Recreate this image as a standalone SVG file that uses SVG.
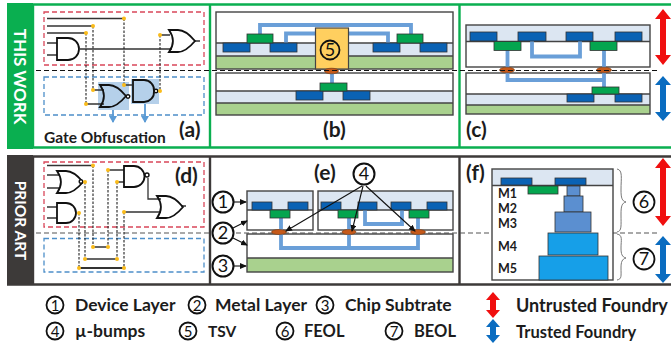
<svg xmlns="http://www.w3.org/2000/svg" width="671" height="343" viewBox="0 0 671 343">
<style>
text{font-family:Lato,"Open Sans","Liberation Sans",sans-serif;font-weight:700;fill:#1c1c1c}
.lbl{font-size:21px}
.leg{font-size:17.5px}
.m{font-size:12.5px}
.side{fill:#fff;text-anchor:middle}
.num{font-size:15px;text-anchor:middle;font-weight:400;fill:#111}
.numb{font-size:18px;text-anchor:middle;font-weight:400;fill:#111}
.c{fill:#fff;stroke:#111;stroke-width:2}
.cy{fill:none;stroke:#111;stroke-width:1.8}
.lb{fill:#dce6f2}
.gr{fill:#a9d18e}
.wh{fill:#fff}
.fr{fill:none;stroke:#444;stroke-width:1.4}
.mb{fill:#0a62b4;stroke:#333;stroke-width:.8}
.mg{fill:#04a54f;stroke:#333;stroke-width:.8}
.w{fill:none;stroke:#6a9fd8;stroke-width:3.8}
.bump{fill:#c5591a;stroke:#7a3a10;stroke-width:.6}
.dr{fill:none;stroke:#d9475a;stroke-width:1.3;stroke-dasharray:5 3}
.db{fill:none;stroke:#4d8fc9;stroke-width:1.3;stroke-dasharray:5 3}
.g{fill:none;stroke:#111;stroke-width:1.8}
.bub{fill:#fff;stroke:#111;stroke-width:1.4}
.wire{fill:none;stroke:#333;stroke-width:1.3}
.dash{fill:none;stroke:#222;stroke-width:1.1;stroke-dasharray:2.5 1.5}
.dot{fill:#fbbc1a}
.sep{fill:none;stroke:#111;stroke-width:1.2;stroke-dasharray:5 3}
.ar{stroke:#111;stroke-width:1.1;fill:none;marker-end:url(#ah)}
.bar{fill:none;stroke:#5b9bd5;stroke-width:1.8;marker-end:url(#ab)}
.brace{fill:none;stroke:#777;stroke-width:1}
</style>
<defs>
<marker id="ah" markerWidth="8" markerHeight="8" refX="6" refY="3" orient="auto" markerUnits="userSpaceOnUse"><path d="M0 0L7 3L0 6z" fill="#111"/></marker>
<marker id="ab" markerWidth="10" markerHeight="10" refX="6" refY="4" orient="auto" markerUnits="userSpaceOnUse"><path d="M0 0L7 4L0 8z" fill="#5b9bd5"/></marker>
<path id="and" d="M0 0H11A11 11 0 0 1 11 22H0Z"/>
<path id="or" d="M0 0H9C16 0 21 5 26 11C21 17 16 22 9 22H0C5 15 5 7 0 0Z"/>
</defs>
<rect width="671" height="343" fill="#fff"/>

<g id="frame-top">
<rect x="7" y="3" width="26" height="146" fill="#0aaf50"/>
<path d="M7 4.500H671M7 147.500H671M33 4V148M210 4V148M459.500 4V148" fill="none" stroke="#0aaf50" stroke-width="2.400"/>
<text class="side" style="font-size:17px" transform="translate(14 76.500) rotate(90)">THIS WORK</text>
</g>
<g id="frame-bottom">
<rect x="7" y="155" width="26" height="130" fill="#3d3a39"/>
<path d="M7 156.500H671M7 284.500H671M33 156V285M210 156V285M459.500 156V285" fill="none" stroke="#3d3a39" stroke-width="2.400"/>
<text class="side" style="font-size:15.500px" transform="translate(15 220.500) rotate(90)">PRIOR ART</text>
</g>

<g id="panel-a">
<rect class="dr" x="44" y="12" width="160" height="53"/>
<rect class="db" x="44" y="77" width="160" height="38"/>
<rect x="98" y="82" width="31" height="28" fill="#b5d0ea"/>
<rect x="131" y="79" width="28" height="25" fill="#b5d0ea"/>
<path class="wire" d="M47 18.500H124M47 26H93M47 33H86M47 43H57M47 55H57M80 49H172M160 35H170M194 41H200M93 90H104M86 104H104M155 91H160M124 85H132"/>
<path class="dash" d="M124 18.500V85M93 26V90M86 33V104M160 35V91"/>
<use href="#and" class="g" x="57" y="38"/>
<use href="#or" class="g" x="169" y="30"/>
<use href="#or" class="g" x="100" y="85"/>
<circle class="bub" cx="128" cy="96.500" r="1.800"/>
<path class="g" d="M133 80H144A10 10 0 0 1 154 91A10 10 0 0 1 144 102H133Z"/>
<circle class="bub" cx="156" cy="91" r="1.800"/>
<circle class="dot" cx="124" cy="18.500" r="2"/><circle class="dot" cx="93" cy="26" r="2"/><circle class="dot" cx="86" cy="33" r="2"/><circle class="dot" cx="160" cy="35" r="2"/><circle class="dot" cx="93" cy="90" r="2"/><circle class="dot" cx="86" cy="104" r="2"/><circle class="dot" cx="160" cy="91" r="2"/><circle class="dot" cx="124" cy="85" r="2"/>
<path class="bar" d="M113 110V122"/>
<path class="bar" d="M145 104V122"/>
<text x="44" y="143" style="font-size:15.500px">Gate Obfuscation</text>
<text class="lbl" x="179" y="137">(a)</text>
</g>

<g id="panel-b">
<rect class="wh" x="216" y="12" width="237" height="31"/>
<rect class="lb" x="216" y="43" width="237" height="13"/>
<rect class="gr" x="216" y="56" width="237" height="13"/>
<rect class="fr" x="216" y="12" width="237" height="57"/>
<path class="fr" d="M216 43H453M216 56H453"/>
<path class="w" d="M260 34V25H411V34M286 43V33.500H388V43"/>
<rect class="mb" x="223" y="43" width="27" height="9"/><rect class="mb" x="270" y="43" width="27" height="9"/><rect class="mb" x="373" y="43" width="27" height="9"/><rect class="mb" x="420" y="43" width="27" height="9"/>
<rect class="mg" x="247" y="34" width="26" height="9"/><rect class="mg" x="397" y="34" width="26" height="9"/>
<g id="tsv"><rect x="315.500" y="28" width="33" height="41" fill="#ffcf5f" stroke="#444" stroke-width="1.200"/><circle class="cy" cx="330" cy="50" r="9.500"/><text class="numb" x="330" y="56">5</text></g>
<rect class="wh" x="216" y="73" width="237" height="18"/>
<rect class="lb" x="216" y="91" width="237" height="12"/>
<rect class="gr" x="216" y="103" width="237" height="12"/>
<rect class="fr" x="216" y="73" width="237" height="42"/>
<path class="fr" d="M216 91H453M216 103H453"/>
<path class="w" d="M332 72V83"/>
<rect class="mb" x="296" y="91" width="27" height="9"/><rect class="mb" x="343" y="91" width="27" height="9"/>
<rect class="mg" x="320" y="83" width="27" height="8"/>
<ellipse class="bump" cx="331.500" cy="71" rx="7" ry="2.800"/>
<text class="lbl" x="323" y="137">(b)</text>
</g>

<g id="panel-c">
<rect class="lb" x="466" y="25" width="184" height="16.500"/>
<rect class="wh" x="466" y="41.500" width="184" height="25.500"/>
<rect class="fr" x="466" y="25" width="184" height="42"/>
<path class="fr" d="M466 41.500H650"/>
<rect class="wh" x="466" y="73" width="184" height="21"/>
<rect class="lb" x="466" y="94" width="184" height="11"/>
<rect class="gr" x="466" y="105" width="184" height="9"/>
<rect class="fr" x="466" y="73" width="184" height="41"/>
<path class="fr" d="M466 94H650M466 105H650"/>
<path class="w" d="M532 41V56.500H580V41M507.500 50V80H604V50M604 80V87"/>
<rect class="mb" x="470" y="32" width="27" height="9"/><rect class="mb" x="518" y="32" width="28" height="9"/><rect class="mb" x="566" y="32" width="27" height="9"/><rect class="mb" x="615" y="32" width="27" height="9"/>
<rect class="mg" x="494" y="41.500" width="27" height="9"/><rect class="mg" x="590" y="41.500" width="27" height="9"/>
<rect class="mb" x="567" y="94" width="27" height="8"/><rect class="mb" x="615" y="94" width="27" height="8"/>
<rect class="mg" x="592" y="87" width="27" height="7"/>
<ellipse class="bump" cx="507" cy="70" rx="7.500" ry="2.800"/><ellipse class="bump" cx="604" cy="70" rx="7.500" ry="2.800"/>
<text class="lbl" x="466" y="137">(c)</text>
</g>

<g id="connectors">
<path class="sep" d="M36 70.500H660"/>
<path class="sep" d="M36 233H660" style="stroke:#555"/>
</g>

<g id="arrow-top-red"><path fill="#f00f0f" d="M663 9L671 19H666V55H671L663 65L655 55H660V19H655Z"/></g>
<g id="arrow-top-blue"><path fill="#0a6cc0" d="M663 76L671 85H666V112H671L663 121L655 112H660V85H655Z"/></g>

<g id="panel-d">
<rect class="dr" x="44" y="162" width="160" height="65"/>
<rect class="db" x="44" y="238.500" width="160" height="33.500"/>
<path class="wire" d="M47 165.500H93M47 175H60M47 188H60M47 207H57M47 218H57M108 170H124M117 182H124M124 212H161M148 178V199H161M181 206H186M93 247H108M85 259H117"/>
<path class="wire" d="M79 268H124" style="stroke-width:1.800"/>
<path class="dash" d="M93 165.500V247M108 170V247M85 182V259M117 182V259M79 213V268M124 212V268"/>
<use href="#or" class="g" x="57" y="171"/>
<circle class="bub" cx="81" cy="181.500" r="1.800"/>
<path class="g" d="M57 203H66A10 10 0 0 1 66 223H57Z"/>
<path class="g" d="M124 166H134A10.500 10.500 0 0 1 134 187H124Z"/>
<circle class="bub" cx="147" cy="175" r="2"/>
<use href="#or" class="g" x="157" y="196"/>
<circle class="dot" cx="93" cy="165.500" r="2"/><circle class="dot" cx="108" cy="170" r="2"/><circle class="dot" cx="117" cy="182" r="2"/><circle class="dot" cx="85" cy="182" r="2"/><circle class="dot" cx="79" cy="213" r="2"/><circle class="dot" cx="124" cy="212" r="2"/><circle class="dot" cx="93" cy="247" r="2"/><circle class="dot" cx="108" cy="247" r="2"/><circle class="dot" cx="85" cy="259" r="2"/><circle class="dot" cx="117" cy="259" r="2"/><circle class="dot" cx="79" cy="268" r="2"/><circle class="dot" cx="124" cy="268" r="2"/>
<text class="lbl" x="175" y="183">(d)</text>
</g>

<g id="panel-e">
<rect class="lb" x="247" y="191" width="66" height="19"/><rect class="wh" x="247" y="210" width="66" height="20"/>
<rect class="fr" x="247" y="191" width="66" height="39"/><path class="fr" d="M247 210H313"/>
<rect class="lb" x="318" y="191" width="135" height="19"/><rect class="wh" x="318" y="210" width="135" height="20"/>
<rect class="fr" x="318" y="191" width="135" height="39"/><path class="fr" d="M318 210H453"/>
<rect class="wh" x="247" y="234" width="206" height="24"/><rect class="gr" x="247" y="258" width="206" height="14"/>
<rect class="fr" x="247" y="234" width="206" height="38"/><path class="fr" d="M247 258H453"/>
<path class="w" d="M281 218V248H418V218M349 218V248M365 210V224H402V210"/>
<rect class="mb" x="252" y="202" width="20" height="8"/><rect class="mb" x="288" y="202" width="20" height="8"/><rect class="mb" x="321" y="202" width="20" height="8"/><rect class="mb" x="358" y="202" width="19" height="8"/><rect class="mb" x="391" y="202" width="20" height="8"/><rect class="mb" x="427" y="202" width="20" height="8"/>
<rect class="mg" x="270" y="210" width="20" height="8"/><rect class="mg" x="338" y="210" width="20" height="8"/><rect class="mg" x="409" y="210" width="20" height="8"/>
<ellipse class="bump" cx="279" cy="232" rx="7.500" ry="2.500"/><ellipse class="bump" cx="349" cy="232" rx="7" ry="2.500"/><ellipse class="bump" cx="418" cy="232" rx="7.500" ry="2.500"/>
<path class="ar" d="M362 186L286 231"/>
<path class="ar" d="M363 186L352 231"/>
<path class="ar" d="M366 186L415 231"/>
<path class="ar" d="M233 202H246"/>
<path class="ar" d="M231 229L247 221"/>
<path class="ar" d="M231 237L247 245"/>
<path class="ar" d="M233 266H246"/>
<g id="c4"><circle class="c" cx="364" cy="174" r="10.500"/><text class="numb" x="364" y="180">4</text></g>
<g id="c1"><circle class="c" cx="223" cy="202" r="10.500"/><text class="numb" x="223" y="208">1</text></g>
<g id="c2"><circle class="c" cx="223" cy="233" r="10.500"/><text class="numb" x="223" y="239">2</text></g>
<g id="c3"><circle class="c" cx="223" cy="266" r="10.500"/><text class="numb" x="223" y="272">3</text></g>
<text class="lbl" x="314" y="180">(e)</text>
</g>

<g id="panel-f">
<rect class="wh" x="492" y="169" width="121" height="111"/>
<rect class="lb" x="492" y="169" width="121" height="16"/>
<rect class="fr" x="492" y="169" width="121" height="111"/><path class="fr" d="M492 185.500H613"/>
<rect class="mb" x="501" y="178" width="31" height="7"/><rect class="mb" x="555" y="178" width="31" height="7"/>
<rect class="mg" x="528" y="186" width="30" height="8"/>
<g fill="#5b8fd0" stroke="#333" stroke-width=".8"><rect x="567" y="186" width="13" height="10"/><rect x="564" y="196" width="19" height="16"/><rect x="555" y="212" width="36" height="20"/></g>
<g fill="#169fe8" stroke="#333" stroke-width=".8"><rect x="548" y="233" width="50" height="22"/><rect x="539" y="256" width="69" height="24"/></g>
<text class="m" x="498" y="198">M1</text><text class="m" x="498" y="213">M2</text><text class="m" x="498" y="228">M3</text><text class="m" x="498" y="251">M4</text><text class="m" x="498" y="273">M5</text>
<path class="brace" d="M617 169C623 170 621 178 621 190C621 198 622 201 626 202C622 203 621 206 621 214C621 226 622 231 617 232M617 234C623 235 621 240 621 248C621 254 622 257 626 258C622 259 621 262 621 268C621 276 622 279 617 280"/>
<g id="c6"><circle class="cy" cx="644" cy="202" r="10.500"/><text class="numb" x="644" y="208">6</text></g>
<g id="c7"><circle class="cy" cx="644" cy="259" r="10.500"/><text class="numb" x="644" y="265">7</text></g>
<text class="lbl" x="466" y="180">(f)</text>
<path fill="#f00f0f" d="M663 158L671 168H666V216H671L663 226L655 216H660V168H655Z"/>
<path fill="#0a6cc0" d="M663 236L671 245H666V274H671L663 283L655 274H660V245H655Z"/>
</g>

<g id="legend">
<g id="l1"><circle class="cy" cx="55" cy="305" r="8.500"/><text class="num" x="55" y="310.500">1</text><text class="leg" x="75" y="311">Device Layer</text></g>
<g id="l2"><circle class="cy" cx="197" cy="305" r="8.500"/><text class="num" x="197" y="310.500">2</text><text class="leg" x="215" y="311">Metal Layer</text></g>
<g id="l3"><circle class="cy" cx="325" cy="305" r="8.500"/><text class="num" x="325" y="310.500">3</text><text class="leg" x="345" y="311">Chip Subtrate</text></g>
<g id="l4"><circle class="cy" cx="55" cy="331" r="8.500"/><text class="num" x="55" y="336.500">4</text><text class="leg" x="75" y="337">µ-bumps</text></g>
<g id="l5"><circle class="cy" cx="188" cy="331" r="8.500"/><text class="num" x="188" y="336.500">5</text><text class="leg" style="font-size:15.500px" x="208" y="337">TSV</text></g>
<g id="l6"><circle class="cy" cx="285" cy="331" r="8.500"/><text class="num" x="285" y="336.500">6</text><text class="leg" style="font-size:16.500px" x="304" y="337">FEOL</text></g>
<g id="l7"><circle class="cy" cx="394" cy="331" r="8.500"/><text class="num" x="394" y="336.500">7</text><text class="leg" style="font-size:16.500px" x="414" y="337">BEOL</text></g>
<path fill="#f00f0f" d="M493 292L500 300H496V310H500L493 318L486 310H490V300H486Z"/>
<path fill="#0a6cc0" d="M493 319L500 327H496V335H500L493 343L486 335H490V327H486Z"/>
<text class="leg" style="font-size:18px" x="516" y="312">Untrusted Foundry</text>
<text class="leg" style="font-size:16.500px" x="516" y="338">Trusted Foundry</text>
</g>
</svg>
